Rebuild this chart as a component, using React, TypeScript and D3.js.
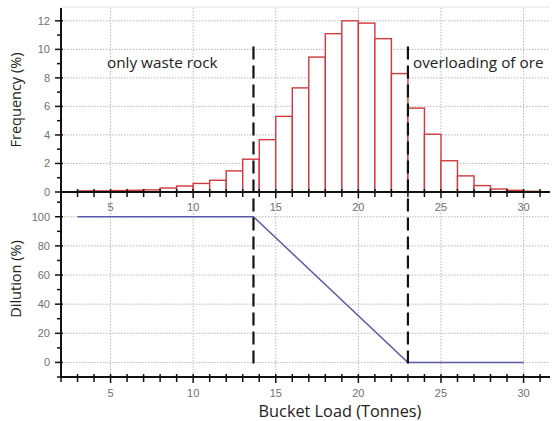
import React from "react";
import * as d3 from "d3";

// histogram bins: [start, end) in tonnes, frequency in %
const binStarts = [3, 4, 5, 6, 7, 8, 9, 10, 11, 12, 13, 14, 15, 16, 17, 18, 19, 20, 21, 22, 23, 24, 25, 26, 27, 28, 29, 30];
const frequency = [0.08, 0.08, 0.1, 0.12, 0.15, 0.28, 0.42, 0.6, 0.82, 1.48, 2.3, 3.67, 5.3, 7.3, 9.46, 11.1, 12.0, 11.84, 10.75, 8.3, 5.88, 4.05, 2.19, 1.13, 0.45, 0.21, 0.12, 0.05];
const binWidth = 1;

// dilution curve
const dilutionLoad = [3, 13.65, 23, 30];
const dilutionPct = [100, 100, 0, 0];

// thresholds
const thresholds = [13.65, 23];

const xTicks = [5, 10, 15, 20, 25, 30];
const freqTicks = [0, 2, 4, 6, 8, 10, 12];
const dilTicks = [0, 20, 40, 60, 80, 100];

const W = 554;
const H = 421;
const left = 61;
const right = 550;
const topTop = 8;
const midY = 192;
const botY = 377;

const FONT = "'Open Sans', sans-serif";
const TICK_FONT = "'Liberation Sans', Arial, sans-serif";

export default function App() {
  const x = d3.scaleLinear().domain([2, 31.6]).range([left, right]);
  const yF = d3.scaleLinear().domain([0, 12.9]).range([midY, topTop]);
  const yD = d3.scaleLinear().domain([-10, 117]).range([botY, midY]);

  const minorX = d3.range(2, 32, 1);
  const minorF = d3.range(1, 13, 2);
  const minorD = d3.range(-10, 117, 10).filter((v) => v % 20 !== 0);

  const line = d3
    .line<number>()
    .x((_, i) => x(dilutionLoad[i]))
    .y((d) => yD(d));

  const grid = { stroke: "#b8b8b8", strokeWidth: 1, strokeDasharray: "1.5,1.5" };

  return (
    <svg width={W} height={H} style={{ position: "absolute", left: 0, top: 0, background: "#fff" }}>
      {/* top border line */}
      <line x1={left} x2={right} y1={topTop - 1} y2={topTop - 1} stroke="#e2e2e2" strokeWidth={1} />

      {/* grids */}
      {xTicks.map((t) => (
        <g key={"gx" + t}>
          <line x1={x(t)} x2={x(t)} y1={topTop} y2={midY} {...grid} />
          <line x1={x(t)} x2={x(t)} y1={midY} y2={botY} {...grid} />
        </g>
      ))}
      {freqTicks.slice(1).map((t) => (
        <line key={"gf" + t} x1={left} x2={right} y1={yF(t)} y2={yF(t)} {...grid} />
      ))}
      {dilTicks.map((t) => (
        <line key={"gd" + t} x1={left} x2={right} y1={yD(t)} y2={yD(t)} {...grid} />
      ))}

      {/* histogram */}
      {binStarts.map((b, i) => (
        <rect
          key={"bar" + b}
          x={x(b)}
          y={yF(frequency[i])}
          width={x(b + binWidth) - x(b)}
          height={yF(0) - yF(frequency[i])}
          fill="#fff"
          stroke="#d0393e"
          strokeWidth={1.4}
        />
      ))}

      {/* dilution line */}
      <path d={line(dilutionPct) || ""} fill="none" stroke="#5b5aa6" strokeWidth={1.5} />

      {/* threshold dashed lines */}
      {thresholds.map((t) => (
        <line
          key={"th" + t}
          x1={x(t)}
          x2={x(t)}
          y1={yF(10.2)}
          y2={yD(-1.5)}
          stroke="#111"
          strokeWidth={2.2}
          strokeDasharray="13,6"
        />
      ))}

      {/* axes */}
      <line x1={left} x2={left} y1={topTop} y2={botY} stroke="#111" strokeWidth={2} />
      <line x1={left} x2={right} y1={midY} y2={midY} stroke="#111" strokeWidth={2} />
      <line x1={left} x2={right} y1={botY} y2={botY} stroke="#111" strokeWidth={2} />

      {/* x ticks both panels */}
      {minorX.map((t) => {
        const major = t % 5 === 0;
        return (
          <g key={"tx" + t}>
            <line x1={x(t)} x2={x(t)} y1={midY - 3} y2={midY + (major ? 6 : 5)} stroke="#111" strokeWidth={1.5} />
            <line x1={x(t)} x2={x(t)} y1={botY - 3} y2={botY + (major ? 6 : 5)} stroke="#111" strokeWidth={1.5} />
          </g>
        );
      })}
      {xTicks.map((t) => (
        <g key={"lx" + t} fontFamily={TICK_FONT} fontSize={11} fill="#707070" textAnchor="middle">
          <text x={x(t)} y={midY + 19}>{t}</text>
          <text x={x(t)} y={botY + 20}>{t}</text>
        </g>
      ))}

      {/* y ticks frequency */}
      {freqTicks.map((t) => (
        <g key={"tf" + t}>
          <line x1={left - 6} x2={left + 2} y1={yF(t)} y2={yF(t)} stroke="#111" strokeWidth={1.5} />
          <text x={left - 11} y={yF(t)} dy="0.35em" textAnchor="end" fontFamily={TICK_FONT} fontSize={11} fill="#707070">
            {t}
          </text>
        </g>
      ))}
      {minorF.map((t) => (
        <line key={"mf" + t} x1={left - 4} x2={left + 1} y1={yF(t)} y2={yF(t)} stroke="#111" strokeWidth={1.5} />
      ))}

      {/* y ticks dilution */}
      {dilTicks.map((t) => (
        <g key={"td" + t}>
          <line x1={left - 6} x2={left + 2} y1={yD(t)} y2={yD(t)} stroke="#111" strokeWidth={1.5} />
          <text x={left - 11} y={yD(t)} dy="0.35em" textAnchor="end" fontFamily={TICK_FONT} fontSize={11} fill="#707070">
            {t}
          </text>
        </g>
      ))}
      {minorD.map((t) => (
        <line key={"md" + t} x1={left - 4} x2={left + 1} y1={yD(t)} y2={yD(t)} stroke="#111" strokeWidth={1.5} />
      ))}

      {/* annotations */}
      <text x={107} y={68} fontFamily={FONT} fontSize={15.3} fill="#222">only waste rock</text>
      <text x={413} y={68} fontFamily={FONT} fontSize={15.3} fill="#222">overloading of ore</text>

      {/* axis titles */}
      <text
        transform={`translate(21,100) rotate(-90)`}
        textAnchor="middle"
        fontFamily={FONT}
        fontSize={14.5}
        fill="#222"
      >
        Frequency (%)
      </text>
      <text
        transform={`translate(21,279) rotate(-90)`}
        textAnchor="middle"
        fontFamily={FONT}
        fontSize={14.5}
        fill="#222"
      >
        Dilution (%)
      </text>
      <text x={340} y={417} textAnchor="middle" fontFamily={FONT} fontSize={16.3} fill="#222">
        Bucket Load (Tonnes)
      </text>
    </svg>
  );
}
